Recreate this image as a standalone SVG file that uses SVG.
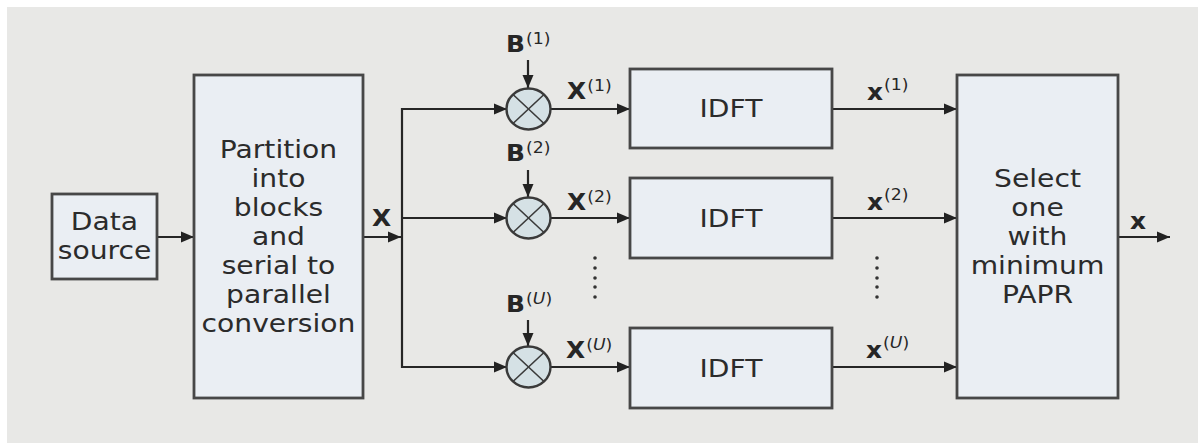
<svg xmlns="http://www.w3.org/2000/svg" width="1198" height="443" viewBox="0 0 1198 443">
<defs>
<marker id="ah" markerUnits="userSpaceOnUse" markerWidth="14" markerHeight="12" refX="13" refY="6" orient="auto">
<path d="M0,0.5 L13,6 L0,11.5 z" fill="#222"/>
</marker>
<style>
.box{fill:#eaeef3;stroke:#474747;stroke-width:2.8}
.mul{fill:#d5e1e5;stroke:#3a3a3a;stroke-width:2.4}
.crs{stroke:#3a3a3a;stroke-width:1.6}
.ln{stroke:#262626;stroke-width:2.2;fill:none}
.arr{stroke:#262626;stroke-width:2.2;fill:none;marker-end:url(#ah)}
.t{font-family:"DejaVu Sans","Open Sans",sans-serif;font-size:24.5px;fill:#2b2b2b;text-anchor:middle;transform-box:fill-box;transform-origin:50% 50%;transform:scaleX(1.15)}
.lb{font-family:"DejaVu Sans","Open Sans",sans-serif;font-size:23px;font-weight:bold;fill:#262626;transform-box:fill-box;transform-origin:0% 50%;transform:scaleX(1.08)}
.sp{font-size:16px;font-weight:normal}
.dot{fill:#333}
</style>
</defs>
<rect x="0" y="0" width="1198" height="443" fill="#ffffff"/>
<rect x="7" y="7" width="1191" height="436" fill="#e8e8e6"/>

<g id="connectors">
<line class="arr" x1="158" y1="237" x2="194" y2="237"/>
<line class="arr" x1="364" y1="237" x2="401" y2="237"/>
<polyline class="ln" points="506,109 402,109 402,367 506,367"/>
<line class="arr" x1="402" y1="109" x2="507" y2="109"/>
<line class="arr" x1="402" y1="218" x2="507" y2="218"/>
<line class="arr" x1="402" y1="367" x2="507" y2="367"/>
<line class="arr" x1="528" y1="60" x2="528" y2="88"/>
<line class="arr" x1="528" y1="170" x2="528" y2="197"/>
<line class="arr" x1="528" y1="320" x2="528" y2="346"/>
<line class="arr" x1="551" y1="109" x2="630" y2="109"/>
<line class="arr" x1="551" y1="218" x2="630" y2="218"/>
<line class="arr" x1="551" y1="367" x2="630" y2="367"/>
<line class="arr" x1="833" y1="109" x2="957" y2="109"/>
<line class="arr" x1="833" y1="218" x2="957" y2="218"/>
<line class="arr" x1="833" y1="367" x2="957" y2="367"/>
<line class="arr" x1="1119" y1="237" x2="1170" y2="237"/>
</g>

<g id="data-source">
<rect class="box" x="52" y="194" width="105" height="85"/>
<text class="t" x="104.5" y="230">Data</text>
<text class="t" x="104.5" y="259">source</text>
</g>

<g id="partition">
<rect class="box" x="194" y="75" width="169" height="323"/>
<text class="t" x="278.5" y="158">Partition</text>
<text class="t" x="278.5" y="187">into</text>
<text class="t" x="278.5" y="216">blocks</text>
<text class="t" x="278.5" y="245">and</text>
<text class="t" x="278.5" y="274">serial to</text>
<text class="t" x="278.5" y="303">parallel</text>
<text class="t" x="278.5" y="332">conversion</text>
</g>

<g id="label-X">
<text class="lb" x="372" y="226">X</text>
</g>

<g id="mult-1">
<ellipse class="mul" cx="528.5" cy="109" rx="22" ry="20.5"/>
<line class="crs" x1="513" y1="94.5" x2="544" y2="123.5"/>
<line class="crs" x1="544" y1="94.5" x2="513" y2="123.5"/>
<text class="lb" x="506" y="52">B<tspan class="sp" dx="1" dy="-8">(1)</tspan></text>
<text class="lb" x="567" y="99">X<tspan class="sp" dx="1" dy="-8">(1)</tspan></text>
</g>
<g id="mult-2">
<ellipse class="mul" cx="528.5" cy="218" rx="22" ry="20.5"/>
<line class="crs" x1="513" y1="203.5" x2="544" y2="232.5"/>
<line class="crs" x1="544" y1="203.5" x2="513" y2="232.5"/>
<text class="lb" x="506" y="161">B<tspan class="sp" dx="1" dy="-8">(2)</tspan></text>
<text class="lb" x="567" y="210">X<tspan class="sp" dx="1" dy="-8">(2)</tspan></text>
</g>
<g id="mult-U">
<ellipse class="mul" cx="528.5" cy="367" rx="22" ry="20.5"/>
<line class="crs" x1="513" y1="352.5" x2="544" y2="381.5"/>
<line class="crs" x1="544" y1="352.5" x2="513" y2="381.5"/>
<text class="lb" x="506" y="312">B<tspan class="sp" dx="1" dy="-8">(<tspan font-style="italic">U</tspan>)</tspan></text>
<text class="lb" x="566" y="358">X<tspan class="sp" dx="1" dy="-8">(<tspan font-style="italic">U</tspan>)</tspan></text>
</g>

<g id="idft-1">
<rect class="box" x="630" y="69" width="202" height="79"/>
<text class="t" x="731" y="117">IDFT</text>
</g>
<g id="idft-2">
<rect class="box" x="630" y="178" width="202" height="80"/>
<text class="t" x="731" y="227">IDFT</text>
</g>
<g id="idft-U">
<rect class="box" x="630" y="328" width="202" height="80"/>
<text class="t" x="731" y="377">IDFT</text>
</g>

<g id="dots-left">
<circle class="dot" cx="595" cy="258" r="1.8"/>
<circle class="dot" cx="595" cy="268" r="1.8"/>
<circle class="dot" cx="595" cy="278" r="1.8"/>
<circle class="dot" cx="595" cy="287" r="1.8"/>
<circle class="dot" cx="595" cy="297" r="1.8"/>
</g>
<g id="dots-right">
<circle class="dot" cx="877" cy="258" r="1.8"/>
<circle class="dot" cx="877" cy="268" r="1.8"/>
<circle class="dot" cx="877" cy="278" r="1.8"/>
<circle class="dot" cx="877" cy="287" r="1.8"/>
<circle class="dot" cx="877" cy="297" r="1.8"/>
</g>

<g id="labels-x">
<text class="lb" x="867" y="100">x<tspan class="sp" dx="1" dy="-10">(1)</tspan></text>
<text class="lb" x="867" y="210">x<tspan class="sp" dx="1" dy="-10">(2)</tspan></text>
<text class="lb" x="866" y="358">x<tspan class="sp" dx="1" dy="-10">(<tspan font-style="italic">U</tspan>)</tspan></text>
</g>

<g id="select">
<rect class="box" x="957" y="75" width="161" height="323"/>
<text class="t" x="1037.5" y="187">Select</text>
<text class="t" x="1037.5" y="216">one</text>
<text class="t" x="1037.5" y="245">with</text>
<text class="t" x="1037.5" y="274">minimum</text>
<text class="t" x="1037.5" y="303">PAPR</text>
</g>

<g id="label-out">
<text class="lb" x="1130" y="229">x</text>
</g>
</svg>
